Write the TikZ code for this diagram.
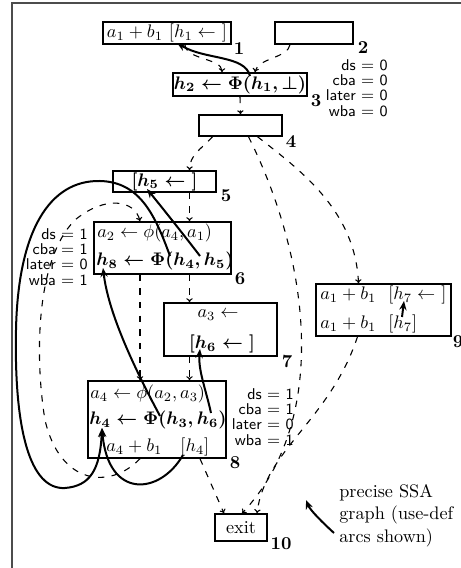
\documentclass[tikz,border=0pt]{standalone}
\usepackage{amsmath}
\usetikzlibrary{arrows.meta,calc}
\begin{document}
\begin{tikzpicture}[x=0.55pt,y=-0.55pt,
  blk/.style={draw, line width=0.8pt, inner sep=0pt},
  bsize/.style 2 args={minimum width=#1*0.55pt, minimum height=#2*0.55pt},
  txt/.style={anchor=west, inner sep=0pt},
  num/.style={font=\bfseries, inner sep=0pt},
  stats/.style={anchor=east, align=right, inner sep=0pt, font=\sffamily\fontsize{8.6}{8.4}\selectfont},
  cf/.style={dash pattern=on 3.5pt off 4pt, line width=0.6pt, -{To[length=2.2pt,width=3.5pt]}},
  ud/.style={line width=1.1pt, -{Stealth[length=5pt,width=4pt]}}]
\useasboundingbox (0,0) rectangle (461,568);
\draw[black!70, line width=0.6pt] (12,568) -- (12,3) -- (461,3);

% blocks
\node[blk, bsize={128}{22}] (b1) at (167,33) {$a_1+b_1\ [h_1\leftarrow\ ]$};
\node[blk, bsize={78}{22}] (b2) at (314,33) {};
\node[blk, bsize={134}{23}] (b3) at (240,84.5) {$\boldsymbol{h_2\leftarrow\Phi(h_1,\bot)}$};
\node[blk, bsize={83}{21}] (b4) at (240.5,125.5) {};
\node[blk, bsize={103}{21}] (b5) at (164.5,181.5) {$\boldsymbol{[h_5\leftarrow\ ]}$};
\node[blk, bsize={137}{52}] (b6) at (162.5,248) {};
\node[blk, bsize={113}{53}] (b7) at (220.5,329.5) {};
\node[blk, bsize={138}{77}] (b8) at (157,419.5) {};
\node[blk, bsize={135}{52}] (b9) at (383.5,310) {};
\node[blk, bsize={52}{27}] (b10) at (241,527.5) {exit};

% block texts
\node[txt] (t6a) at (97,233) {$a_2\leftarrow\phi(a_4,a_1)$};
\node[txt] (t6b) at (96,261) {$\boldsymbol{h_8\leftarrow\Phi(h_4,h_5)}$};
\node (t7a) at (218,315) {$a_3\leftarrow$};
\node (t7b) at (222,344) {$\boldsymbol{[h_6\leftarrow\ ]}$};
\node[txt] (t8a) at (90,394) {$a_4\leftarrow\phi(a_2,a_3)$};
\node[txt] (t8b) at (89,420) {$\boldsymbol{h_4\leftarrow\Phi(h_3,h_6)}$};
\node[txt] (t8c) at (106,447) {$a_4+b_1\quad[h_4]$};
\node[txt] (t9a) at (320,295) {$a_1+b_1\ \ [h_7\leftarrow\ ]$};
\node[txt] (t9b) at (320,324) {$a_1+b_1\ \ [h_7]$};

% block numbers
\node[num] (l1) at (239,49) {1};
\node[num] (l2) at (363,48) {2};
\node[num] (l3) at (316,101) {3};
\node[num] (l4) at (291,142) {4};
\node[num] (l5) at (226,196) {5};
\node[num] (l6) at (240,279) {6};
\node[num] (l7) at (287,361) {7};
\node[num] (l8) at (235,463) {8};
\node[num] (l9) at (458,342) {9};
\node[num] (l10) at (281,544) {10};

% values
\node[stats] (s3) at (388,88) {ds $=$ 0\\cba $=$ 0\\later $=$ 0\\wba $=$ 0};
\node[stats] (s6) at (88,257) {ds $=$ 1\\cba $=$ 1\\later $=$ 0\\wba $=$ 1};
\node[stats] (s8) at (294,417) {ds $=$ 1\\cba $=$ 1\\later $=$ 0\\wba $=$ 1};

% legend
\node[align=left, anchor=north west, inner sep=0pt, font=\fontsize{10}{12.4}\selectfont] (lg) at (339,484) {precise SSA\\graph (use-def\\arcs shown)};
\coordinate (lgt) at (334,533);
\coordinate (lgh) at (306,500);
\draw[ud] (lgt) .. controls (322,522) and (310,510) .. (lgh);

% control flow
\draw[cf] ($(b1.south)+(18,0)$) .. controls (186,60) and (222,58) .. ($(b3.north)+(-18,0)$);
\draw[cf] ($(b2.south)+(-24,0)$) .. controls (288,58) and (258,58) .. ($(b3.north)+(15,0)$);
\draw[cf] (b3.south) -- (b4.north);
\draw[cf] ($(b4.south)+(-28,0)$) .. controls (200,150) and (190,155) .. ($(b5.north)+(25,0)$);
\draw[cf] ($(b4.south)+(8,0)$) .. controls (310,260) and (330,420) .. ($(b10.north)+(1,0)$);
\draw[cf] ($(b4.south)+(17,0)$) .. controls (300,170) and (355,210) .. ($(b9.north)+(-25,0)$);
\draw[cf] ($(b5.south)+(25,0)$) -- ($(b6.north)+(27,0)$);
\draw[cf] ($(b6.south)+(27,0)$) -- ($(b7.north)+(-31,0)$);
\draw[cf] ($(b6.south)+(-22.5,0)$) -- ($(b8.north)+(-17,0)$);
\draw[cf] ($(b7.south)+(-31,0)$) -- ($(b8.north)+(32.5,0)$);
\draw[cf] ($(b8.south)+(-17,0)$) .. controls (110,490) and (60,485) .. (45,420)
  .. controls (35,360) and (35,260) .. (75,220)
  .. controls (105,195) and (135,200) .. ($(b6.north)+(-22.5,0)$);
\draw[cf] ($(b8.south)+(43,0)$) -- ($(b10.north)+(-17,0)$);
\draw[cf] ($(b9.south)+(-26,0)$) .. controls (330,420) and (265,450) .. ($(b10.north)+(16,0)$);

% use-def arcs
\coordinate (u3h1) at (250,76);
\coordinate (d1h1) at (177,43);
\coordinate (u6h5) at (200,256);
\coordinate (d5h5) at (147,189);
\coordinate (u6h4) at (170,256);
\coordinate (d8h4) at (102,428);
\coordinate (u8h3) at (160,416);
\coordinate (d6h8) at (103,268);
\coordinate (u8h6) at (211,413);
\coordinate (d7h6) at (200,349);
\coordinate (u9h7) at (402,317);
\coordinate (d9h7) at (404,301);
\coordinate (u8h4) at (183,455);
\draw[ud] (u3h1) .. controls (245,55) and (205,60) .. (d1h1);
\draw[ud] (u6h5) .. controls (180,230) and (160,205) .. (d5h5);
\draw[ud] (u6h4) .. controls (155,215) and (140,182) .. (100,181)
  .. controls (50,180) and (18,230) .. (16,330)
  .. controls (14,430) and (30,490) .. (65,488)
  .. controls (90,486) and (100,470) .. (d8h4);
\draw[ud] (u8h4) .. controls (160,495) and (108,500) .. (d8h4);
\draw[ud] (u8h3) .. controls (130,360) and (108,310) .. (d6h8);
\draw[ud] (u8h6) .. controls (206,390) and (198,370) .. (d7h6);
\draw[ud] (u9h7) -- (d9h7);
\end{tikzpicture}
\end{document}
